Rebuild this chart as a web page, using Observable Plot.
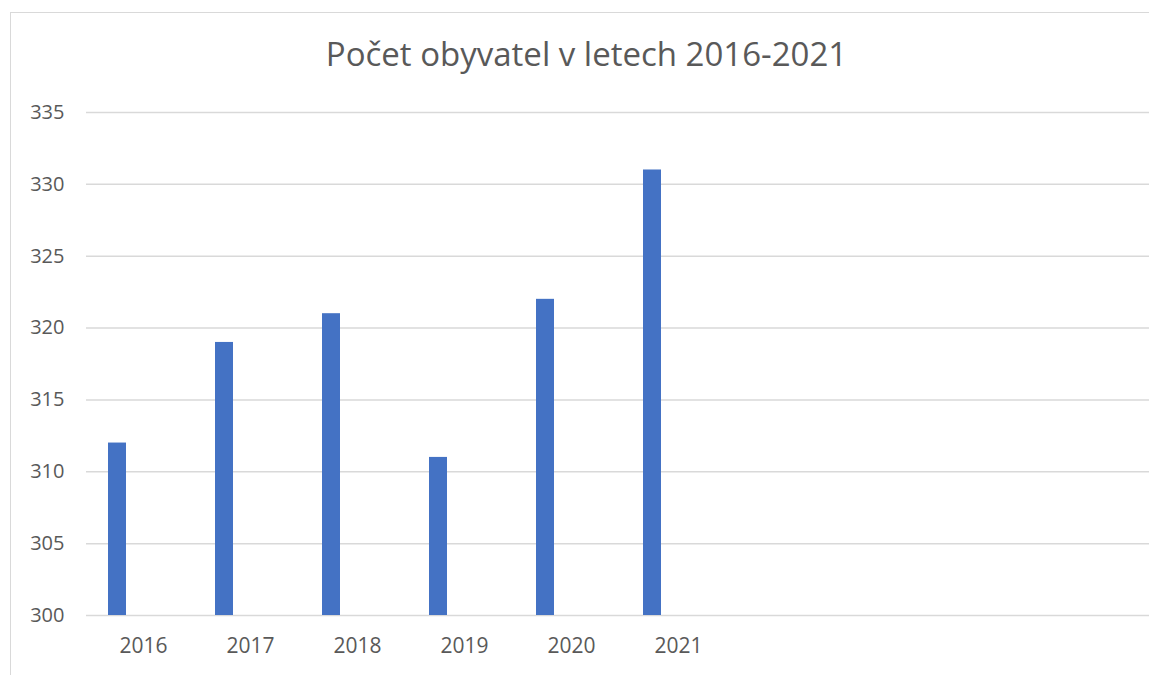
<!DOCTYPE html>
<html>
<head>
<meta charset="utf-8">
<script src="https://cdn.jsdelivr.net/npm/d3@7"></script>
<script src="https://cdn.jsdelivr.net/npm/@observablehq/plot@0.6"></script>
<style>
  html, body { margin: 0; padding: 0; background: #fff; }
  #wrap { position: relative; width: 1149px; height: 675px; overflow: hidden; font-family: "Open Sans", sans-serif; }
  #frame { position: absolute; left: 10px; top: 12px; width: 1200px; height: 700px; border-left: 1.5px solid #d9d9d9; border-top: 1.5px solid #d9d9d9; box-sizing: border-box; }
  #title { position: relative; height: 90px; width: 1149px; text-align: center; color: #595959; font-size: 33px; line-height: 1; padding-top: 37px; box-sizing: border-box; padding-left: 24px; }
  #chart { position: relative; }
</style>
</head>
<body>
<div id="wrap">
  <div id="frame"></div>
  <div id="title">Počet obyvatel v letech 2016-2021</div>
  <div id="chart"></div>
</div>
<script>
const years = ["2016", "2017", "2018", "2019", "2020", "2021"];
const population = [312, 319, 321, 311, 322, 331];
const emptySlots = ["_a", "_b", "_c", "_d"];
const yTicks = [300, 305, 310, 315, 320, 325, 330, 335];

const data = years.map((y, i) => ({year: y, value: population[i]}));

const chart = Plot.plot({
  width: 1149,
  height: 585,
  marginLeft: 86,
  marginRight: 0,
  marginTop: 22,
  marginBottom: 60,
  style: {fontFamily: "Open Sans, sans-serif", fontSize: "20px", color: "#595959", background: "transparent", overflow: "visible"},
  x: {domain: [...years, ...emptySlots], range: [86, 1163], paddingInner: 0.828, paddingOuter: 0.414, label: null},
  y: {domain: [300, 335], label: null},
  marks: [
    Plot.ruleY(yTicks, {stroke: "#d9d9d9", strokeWidth: 1.5}),
    Plot.barY(data, {x: "year", y1: 300, y2: "value", fill: "#4472C4", dx: -26}),
    Plot.axisY(yTicks, {tickSize: 0, tickPadding: 22, fontSize: 20, fill: "#595959"}),
    Plot.axisX({tickSize: 0, tickPadding: 23, fontSize: 21, fill: "#595959", tickFormat: d => years.includes(d) ? d : ""})
  ]
});
document.getElementById("chart").appendChild(chart);
</script>
</body>
</html>
